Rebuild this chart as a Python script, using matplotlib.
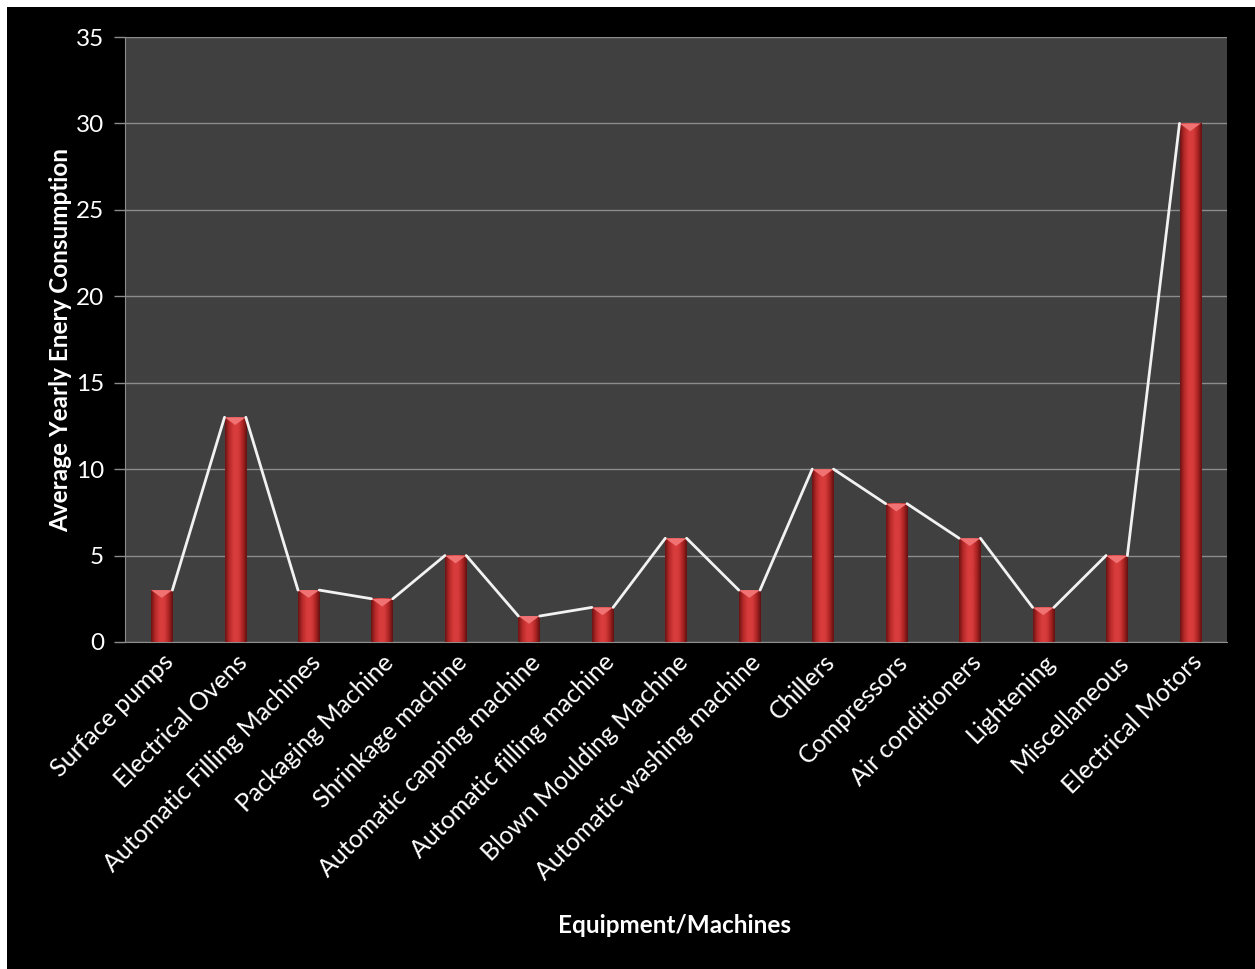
import numpy as np
import matplotlib
matplotlib.use("Agg")
import matplotlib.pyplot as plt
from matplotlib.colors import LinearSegmentedColormap
from matplotlib.patches import Polygon, Rectangle

# Данные
categories = [
    "Surface pumps", "Electrical Ovens", "Automatic Filling Machines",
    "Packaging Machine", "Shrinkage machine", "Automatic capping machine",
    "Automatic filling machine", "Blown Moulding Machine",
    "Automatic washing machine", "Chillers", "Compressors",
    "Air conditioners", "Lightening", "Miscellaneous", "Electrical Motors",
]
values = [3, 13, 3, 2.5, 5, 1.5, 2, 6, 3, 10, 8, 6, 2, 5, 30]
yticks = [0, 5, 10, 15, 20, 25, 30, 35]

plt.rcParams['font.family'] = ['Lato', 'DejaVu Sans']

fig = plt.figure(figsize=(12.55, 9.69), dpi=100, facecolor='white')
fig.patches.append(Rectangle((7 / 1255, 0), 1, 1 - 7 / 969, transform=fig.transFigure,
                             facecolor='black', edgecolor='none', zorder=-10))
ax = fig.add_axes([0.0996, 0.3375, 0.878, 0.6243])
ax.set_facecolor('#404040')

w = 0.29
x = np.arange(len(values))

# градиент столбцов
cmap = LinearSegmentedColormap.from_list(
    "barred", ["#6e1212", "#b82a2a", "#d83c3c", "#d83c3c", "#b02626", "#641010"])
grad = np.linspace(0, 1, 64).reshape(1, -1)
for xi, v in zip(x, values):
    ax.imshow(grad, cmap=cmap, aspect='auto', extent=(xi - w / 2, xi + w / 2, 0, v),
              zorder=3, interpolation='bilinear')
    cap = 0.45
    ax.add_patch(Polygon([(xi - w / 2, v), (xi + w / 2, v), (xi, v - cap)],
                         closed=True, facecolor='#f07272', edgecolor='none', zorder=4))

# линии между столбцами
for i in range(len(values) - 1):
    ax.plot([x[i] + w / 2, x[i + 1] - w / 2], [values[i], values[i + 1]],
            color='#f2f2f2', lw=2, zorder=5, solid_capstyle='round')

ax.set_xlim(-0.5, len(values) - 0.5)
ax.set_ylim(0, 35)
ax.set_yticks(yticks)
ax.yaxis.grid(True, color='#8c8c8c', lw=1)
ax.set_axisbelow(True)
ax.set_xticks(x)
ax.set_xticklabels(categories, rotation=45, ha='right', rotation_mode='anchor',
                   fontsize=18, color='white')
ax.tick_params(axis='x', length=0, pad=6)
ax.tick_params(axis='y', colors='#8c8c8c', labelcolor='white', labelsize=17.5,
               length=8, width=1, pad=7)
for s in ['top', 'right']:
    ax.spines[s].set_visible(False)
for s in ['left', 'bottom']:
    ax.spines[s].set_color('#8c8c8c')

fig.text(0.048, 0.6495, "Average Yearly Enery Consumption", rotation=90,
         ha='center', va='center', fontsize=17.5, fontweight='bold', color='white')
fig.text(0.5375, 0.045, "Equipment/Machines", ha='center', va='center',
         fontsize=17.5, fontweight='bold', color='white')

fig.savefig("out.png", dpi=100, facecolor=fig.get_facecolor())
